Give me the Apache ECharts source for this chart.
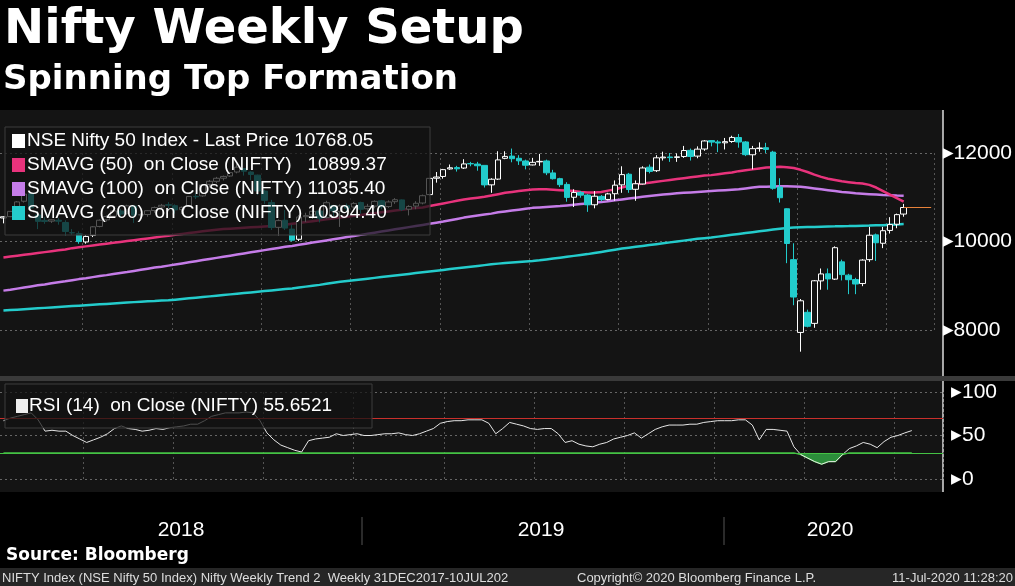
<!DOCTYPE html>
<html><head><meta charset="utf-8">
<script src="https://cdn.jsdelivr.net/npm/echarts@6/dist/echarts.min.js"></script>
<style>html,body{margin:0;padding:0;background:#000;}#c{width:1015px;height:586px;}</style>
</head><body><div id="c"></div>
<script>
const opens = [10532,10562,10690,10910,11080,10600,10476,10460,10480,10430,10200,10180,9990,10140,10340,10490,10570,10690,10640,10800,10600,10610,10700,10780,10830,10810,10720,10800,11020,11030,11290,11360,11430,11480,11570,11650,11570,11500,11140,10880,10320,10480,10280,10050,10560,10600,10690,10540,10810,10680,10810,10780,
10880,10740,10800,10920,10790,10900,10940,10730,10800,10870,11060,11430,11470,11640,11670,11660,11760,11750,11720,11280,11410,11880,11930,11880,11820,11730,11800,11820,11550,11420,11290,11000,11110,11050,10830,11020,10950,11080,11280,11520,11180,11300,11680,11600,11890,11910,11900,11920,12060,11930,12090,12280,
12250,12230,12260,12350,12250,11960,12100,12120,12020,11230,10740,9590,7945,8400,8150,9110,9270,9150,9540,9240,9140,9050,9590,10150,9960,10250,10390,10620];
const closes = [10559,10681,10895,11070,10761,10455,10452,10491,10458,10227,10195,9998,10114,10332,10481,10564,10692,10619,10806,10596,10605,10696,10768,10818,10822,10714,10772,11019,11010,11278,11361,11429,11470,11557,11680,11589,11515,11143,10930,10316,10472,10303,10030,10553,10585,10682,10527,10877,10694,10805,10754,10860,
10728,10795,10907,10780,10894,10944,10724,10792,10864,11035,11427,11457,11624,11666,11643,11753,11755,11712,11279,11407,11844,11923,11871,11823,11724,11789,11811,11552,11419,11284,10997,11109,11048,10829,11023,10946,11076,11274,11512,11175,11305,11662,11584,11891,11908,11895,11914,12056,11922,12087,12272,12246,
12226,12257,12352,12248,11962,12098,12113,12081,11202,10989,9955,8745,8660,8084,9112,9267,9154,9860,9252,9137,9039,9580,10142,9972,10244,10383,10607,10768.05];
const highs = [10570,10690,10915,11172,11117,10680,10550,10500,10530,10480,10280,10230,10140,10350,10500,10590,10720,10730,10830,10820,10640,10710,10790,10850,10890,10840,10790,11030,11080,11290,11390,11460,11490,11570,11760,11660,11590,11510,11170,10940,10500,10710,10380,10600,10650,10710,10700,10920,10830,10840,10860,10890,
10900,10850,10930,10940,10930,10980,10950,10820,10910,11060,11430,11570,11640,11740,11710,11860,11800,11800,11720,11430,12040,12040,12100,11950,11850,11890,11980,11850,11620,11440,11340,11180,11140,11070,11140,11050,11100,11380,11700,11550,11380,11700,11740,11950,12030,12000,11990,12160,12100,12150,12290,12290,
12290,12340,12390,12430,12270,12160,12240,12230,12050,11430,10750,9960,8700,8460,9130,9390,9390,9890,9590,9270,9180,9600,10330,10180,10330,10550,10630,10850];
const lows = [10410,10550,10660,10880,10730,10280,10400,10420,10380,10140,10150,9950,9950,10100,10320,10450,10540,10550,10600,10420,10480,10560,10650,10740,10750,10630,10620,10780,10960,11010,11220,11320,11380,11460,11540,11490,11390,11050,10850,10260,10140,10260,10000,10010,10440,10510,10430,10520,10580,10330,10690,10680,
10630,10690,10750,10730,10760,10850,10690,10590,10730,10840,11040,11330,11420,11620,11580,11640,11700,11600,11220,11100,11390,11860,11790,11730,11630,11720,11710,11500,11400,11230,10900,10780,10990,10670,10750,10910,10930,10920,11100,11100,10920,11290,11540,11570,11830,11800,11800,11890,11830,11880,12050,12150,
12020,12080,12230,12120,11930,11630,12030,12000,11170,10880,9510,8560,7510,8060,8050,8910,8910,9130,9120,8810,8810,8990,9540,9560,9850,10180,10300,10560];
const sma50 = [9640,9660,9680,9700,9720,9740,9760,9780,9800,9820,9850,9870,9890,9910,
9930,9950,9970,9990,10010,10030,10050,10070,10090,10110,10130,10150,10170,10190,10210,10230,10250,10265,10280,10290,10300,10310,
10320,10330,10340,10350,10360,10380,10400,10420,10440,10460,10480,10500,10520,10540,10560,10580,10600,10620,10640,10660,10680,10700,10720,10740,10755,10770,
10800,10830,10860,10890,10920,10950,10970,10990,11010,11040,11070,11100,11120,11140,11160,11175,
11180,11180,11170,11160,11150,11140,11120,11110,11110,11120,11150,11180,11220,11260,
11290,11310,11330,11350,11370,11390,11410,11430,11450,11470,11490,11500,11520,11540,11560,11590,11610,11630,11650,11670,11680,
11690,11680,11660,11620,11570,11510,11460,11420,11390,11360,11340,11320,11310,11280,11220,11140,11060,10980,10899.37];
const sma100 = [8890,8910,8935,8960,8985,9010,9030,9055,9080,9100,9125,9150,9170,9195,9220,9240,9265,9290,9310,9335,9360,9385,9410,9430,9455,9480,9505,9530,9555,9580,9605,9630,9655,9680,9705,9730,9755,9780,9805,9830,9855,9880,9900,9925,9950,9975,10000,10025,10050,10075,10100,10125,10150,10175,10200,10225,10250,10275,10300,10325,10350,10375,10400,10425,10450,10480,10510,10540,10565,10590,10610,10630,
10660,10680,10700,10720,10740,10760,10770,10780,10790,10800,10815,10830,10845,10860,10875,10890,10910,10930,10950,10970,10990,11010,11030,11045,11060,11075,11090,11100,11110,11120,11130,11140,11150,11160,11170,11180,11200,11220,11235,11240,11245,11250,11250,11245,11235,11220,11200,11180,11160,11140,11120,11105,11090,11080,11070,11060,11050,11045,11040,11035.40];
const sma200 = [8440,8450,8460,8470,8480,8490,8500,8510,8520,8530,8540,8550,8560,8570,8580,8590,8600,8610,8620,8630,8640,8650,8655,8665,
8670,8685,8700,8715,8730,8745,8760,8775,8790,8805,8820,8835,8850,8865,8880,8895,8910,8925,8940,8960,8980,9000,9020,9045,
9070,9088,9106,9124,9142,9160,9178,9196,9214,9232,9250,9268,9286,9304,9322,9340,9358,9376,9394,9412,9430,9448,9466,9484,9500,9512,9524,9536,9548,9560,
9575,9595,9615,9635,9655,9675,9695,9715,9740,9765,9790,9815,9840,9860,9880,9900,9920,9940,9960,9980,10000,10020,10040,10060,10075,
10090,10110,10130,10150,10170,10190,10210,10230,10250,10270,10290,10305,10315,10320,10325,10330,10335,10340,10342,10345,10348,10352,10356,10360,10365,10370,10378,10386,10394.40];
const rsi = [67,70,72,74,76,68,55,56,55,55,50,46,42,45,48,52,58,61,58,57,55,56,58,57,59,60,61,63,63,67,72,74,76,76,76,77,76,67,53,45,39,36,33,31,44,46,47,48,52,50,51,52,50,50,51,52,52,53,51,50,52,55,58,64,66,67,67,68,68,68,64,52,58,65,63,61,58,57,58,58,52,42,44,40,38,37,40,42,46,48,50,53,47,52,57,60,62,62,62,63,63,65,66,67,67,67,68,68,62,45,57,57,56,55,37,28,24,20,17,20,20,28,35,38,42,40,36,43,48,50,53,55.6521];
const priceTicks = [8000,10000,12000];
const rsiTicks = [0,50,100];
const padWeeks = 4;

const categories = [];
const start = new Date(Date.UTC(2018,0,5));
for (let i=0;i<closes.length+padWeeks;i++){const d=new Date(start.getTime()+i*7*864e5);categories.push(d.toISOString().slice(0,10));}
const candles = closes.map((c,i)=>[opens[i],c,lows[i],highs[i]]);
const rsiLow = rsi.map(v=>Math.min(v,30));
const lastIdx = closes.length-1;

const chart = echarts.init(document.getElementById('c'),null,{renderer:'canvas'});
const FONT='Liberation Sans';
const vSplit = {show:true,interval:(i)=>i>0&&(i-12)%13===0,lineStyle:{color:'#555',type:[2,3]}};
const legendItems = [
 ['#ffffff','NSE Nifty 50 Index - Last Price 10768.05'],
 ['#e8337c','SMAVG (50)  on Close (NIFTY)   10899.37'],
 ['#c57ce8','SMAVG (100)  on Close (NIFTY) 11035.40'],
 ['#24cccc','SMAVG (200)  on Close (NIFTY) 10394.40']];
const graphics = [
 {type:'rect',z:-10,shape:{x:0,y:110,width:943,height:266},style:{fill:'#141414'}},
 {type:'rect',z:-10,shape:{x:0,y:376,width:1015,height:5},style:{fill:'#3a3a3a'}},
 {type:'rect',z:-10,shape:{x:0,y:381,width:943,height:111},style:{fill:'#141414'}},
 {type:'text',left:4,top:7,style:{text:'Nifty Weekly Setup',fill:'#fff',font:'bold 48px "DejaVu Sans"'}},
 {type:'text',left:3,top:63,style:{text:'Spinning Top Formation',fill:'#fff',font:'bold 34px "DejaVu Sans"'}},
 {type:'rect',z:50,shape:{x:5,y:127,width:425,height:108},style:{fill:'rgba(18,18,18,0.72)',stroke:'#3c3c3c'}},
 {type:'rect',z:50,shape:{x:5,y:384,width:367,height:44},style:{fill:'rgba(18,18,18,0.72)',stroke:'#3c3c3c'}},
 {type:'rect',z:51,shape:{x:16,y:399,width:12,height:14},style:{fill:'#eee'}},
 {type:'text',z:51,x:29,y:406,style:{text:'RSI (14)  on Close (NIFTY) 55.6521',fill:'#fff',font:'19px '+FONT,verticalAlign:'middle'}},
 {type:'line',shape:{x1:362,y1:517,x2:362,y2:545},style:{stroke:'#555'}},
 {type:'line',shape:{x1:724,y1:517,x2:724,y2:545},style:{stroke:'#555'}},
 {type:'text',x:181,y:530,style:{text:'2018',fill:'#fff',font:'21px '+FONT,align:'center',verticalAlign:'middle'}},
 {type:'text',x:541,y:530,style:{text:'2019',fill:'#fff',font:'21px '+FONT,align:'center',verticalAlign:'middle'}},
 {type:'text',x:830,y:530,style:{text:'2020',fill:'#fff',font:'21px '+FONT,align:'center',verticalAlign:'middle'}},
 {type:'text',x:6,y:556,style:{text:'Source: Bloomberg',fill:'#fff',font:'bold 17px "DejaVu Sans"',verticalAlign:'middle'}},
 {type:'rect',shape:{x:0,y:568,width:1015,height:18},style:{fill:'#262626'}},
 {type:'text',x:2,y:578,style:{text:'NIFTY Index (NSE Nifty 50 Index) Nifty Weekly Trend 2  Weekly 31DEC2017-10JUL202',fill:'#ddd',font:'13px '+FONT,verticalAlign:'middle'}},
 {type:'text',x:577,y:578,style:{text:'Copyright© 2020 Bloomberg Finance L.P.',fill:'#ddd',font:'13px '+FONT,verticalAlign:'middle'}},
 {type:'text',x:1013,y:578,style:{text:'11-Jul-2020 11:28:20',fill:'#ddd',font:'13px '+FONT,align:'right',verticalAlign:'middle'}},
 {type:'line',shape:{x1:943,y1:110,x2:943,y2:376},style:{stroke:'#ddd',lineWidth:1.5}},
 {type:'line',shape:{x1:943,y1:381,x2:943,y2:492},style:{stroke:'#ddd',lineWidth:1.5}}
];
legendItems.forEach((it,k)=>{
 const y=141+k*24;
 graphics.push({type:'rect',z:51,shape:{x:12,y:y-7,width:13,height:14},style:{fill:it[0]}});
 graphics.push({type:'text',z:51,x:27,y:y,style:{text:it[1],fill:'#fff',font:'19px '+FONT,verticalAlign:'middle'}});
});
const axLabel = {color:'#fff',fontFamily:FONT,fontSize:21,margin:8,formatter:v=>'▸'+v};
chart.setOption({
 backgroundColor:'#000',animation:false,
 graphic:graphics,
 grid:[{left:0,right:72,top:153,height:177},{left:0,right:72,top:392,height:87}],
 xAxis:[
  {type:'category',data:categories,gridIndex:0,boundaryGap:true,axisLine:{show:false},axisTick:{show:false},axisLabel:{show:false},splitLine:vSplit},
  {type:'category',data:categories,gridIndex:1,boundaryGap:true,axisLine:{show:false},axisTick:{show:false},axisLabel:{show:false},splitLine:vSplit}],
 yAxis:[
  {type:'value',gridIndex:0,position:'right',min:priceTicks[0],max:priceTicks[2],interval:2000,
   axisLine:{show:false},axisTick:{show:false},axisLabel:axLabel,
   splitLine:{lineStyle:{color:'#666',type:[2,3]}}},
  {type:'value',gridIndex:1,position:'right',min:rsiTicks[0],max:rsiTicks[2],interval:50,
   axisLine:{show:false},axisTick:{show:false},axisLabel:axLabel,
   splitLine:{lineStyle:{color:'#666',type:[2,3]}}}],
 series:[
  {type:'line',data:sma200,xAxisIndex:0,yAxisIndex:0,symbol:'none',clip:false,lineStyle:{color:'#24cccc',width:2.5},z:2},
  {type:'line',data:sma100,xAxisIndex:0,yAxisIndex:0,symbol:'none',clip:false,lineStyle:{color:'#c57ce8',width:2.5},z:2},
  {type:'line',data:sma50,xAxisIndex:0,yAxisIndex:0,symbol:'none',clip:false,lineStyle:{color:'#e8337c',width:2.5},z:2},
  {type:'candlestick',data:candles,xAxisIndex:0,yAxisIndex:0,clip:false,barWidth:6,z:3,
   itemStyle:{color:'#141414',color0:'#22cccc',borderColor:'#ffffff',borderColor0:'#22cccc',borderWidth:1},
   markLine:{symbol:'none',silent:true,label:{show:false},lineStyle:{color:'#e8823a',width:1,type:'solid'},
     data:[[{coord:[lastIdx,closes[lastIdx]]},{coord:[lastIdx+padWeeks,closes[lastIdx]]}]]}},
  {type:'line',data:rsiLow,xAxisIndex:1,yAxisIndex:1,symbol:'none',lineStyle:{color:'#44c244',width:1.2},
   areaStyle:{origin:30,color:'#2f9a3f',opacity:0.9},z:2,
   markLine:{symbol:'none',silent:true,label:{show:false},lineStyle:{color:'#44c244',width:1.2,type:'solid'},data:[{yAxis:30}]}},
  {type:'line',data:rsi,xAxisIndex:1,yAxisIndex:1,symbol:'none',lineStyle:{color:'#e6e6e6',width:1},z:4,
   markLine:{symbol:'none',silent:true,label:{show:false},
     data:[{yAxis:70,lineStyle:{color:'#c9302c',width:1.2,type:'solid'}}]}}
 ]
});
</script></body></html>
